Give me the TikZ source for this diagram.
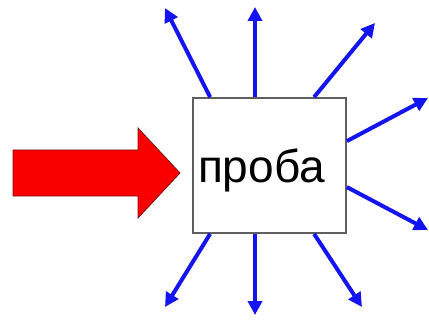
\documentclass[tikz,border=0pt]{standalone}
\usepackage{fontspec}
\setmainfont{Liberation Sans}
\usetikzlibrary{arrows.meta}
\definecolor{boxgray}{RGB}{95,95,95}
\definecolor{rayblue}{RGB}{20,20,240}
\definecolor{arrred}{RGB}{250,0,0}
\definecolor{arrdark}{RGB}{120,20,20}
\tikzset{
  probebox/.style={draw=boxgray, line width=1.8pt, fill=white, minimum width=153pt, minimum height=135pt, inner sep=0pt},
  probetext/.style={font=\fontsize{46}{46}\selectfont, inner sep=0pt},
  ray/.style={draw=rayblue, line width=4pt, -{Triangle[length=14pt,width=14pt]}},
  bigarrow/.style={fill=arrred, draw=arrdark, line width=0.8pt, line join=miter}
}
\begin{document}
\begin{tikzpicture}[x=1pt,y=1pt]
\useasboundingbox (0,0) rectangle (429,322);
\node[probebox] (box) at (269.5,156.5) {};
\node[probetext] (lbl) at ([xshift=-8pt,yshift=-5pt]box.center) {проба};
% red arrow
\draw[bigarrow] (13,172) -- (138,172) -- (138,194) -- (180,149) -- (138,104) -- (138,126) -- (13,126) -- cycle;
% tips
\coordinate (t1) at (165,314);
\coordinate (t2) at (255,315);
\coordinate (t3) at (375,299);
\coordinate (t4) at (428,224);
\coordinate (t5) at (428,92);
\coordinate (t6) at (362,15);
\coordinate (t7) at (255,7);
\coordinate (t8) at (165,15);
\draw[ray] ([xshift=18pt]box.north west) -- (t1);
\draw[ray] (t2 |- box.north) -- (t2);
\draw[ray] ([xshift=122pt]box.north west) -- (t3);
\draw[ray] ([yshift=-44pt]box.north east) -- (t4);
\draw[ray] ([yshift=-90pt]box.north east) -- (t5);
\draw[ray] ([xshift=122pt]box.south west) -- (t6);
\draw[ray] (t7 |- box.south) -- (t7);
\draw[ray] ([xshift=18pt]box.south west) -- (t8);
\end{tikzpicture}
\end{document}
